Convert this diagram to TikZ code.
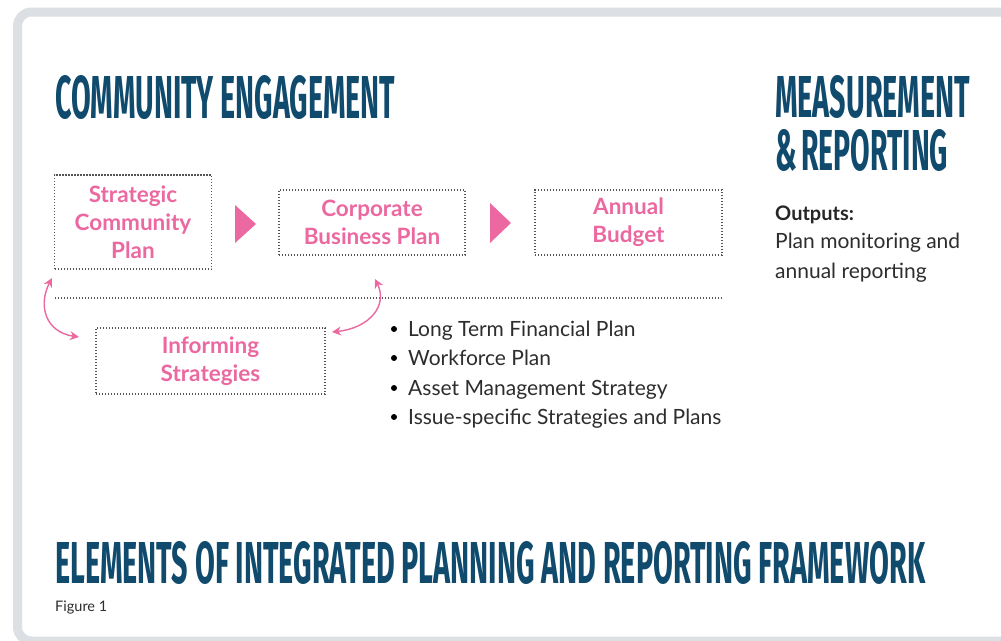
\documentclass[tikz,border=0pt]{standalone}
\usepackage{fontspec}
\usepackage{graphicx}
\setmainfont{Lato}
\newfontfamily\titlefont{Fira Sans}
\usetikzlibrary{arrows.meta}
\definecolor{navy}{RGB}{16,74,108}
\definecolor{pinkc}{RGB}{235,104,160}
\definecolor{dotc}{RGB}{85,85,85}
\definecolor{framec}{RGB}{220,223,228}
\definecolor{bodyc}{RGB}{45,45,45}
\tikzset{
  dotbox/.style={draw=dotc, line width=1.6pt, dash pattern=on 1.3pt off 1.7pt,
    inner sep=0pt, align=center, text=pinkc, font=\fontsize{22.5}{28}\selectfont\bfseries},
  dotline/.style={draw=dotc, line width=1.6pt, dash pattern=on 1.3pt off 1.7pt},
  headline/.style={anchor=north west, inner sep=0pt, text=navy},
  bodytext/.style={anchor=base west, inner sep=0pt, text=bodyc, font=\fontsize{21}{29}\selectfont},
  bulletdot/.style={circle, fill=black, inner sep=0pt, minimum size=6pt},
  linkarrow/.style={draw=pinkc, line width=1.4pt, {Stealth[length=9pt,width=9pt]}-{Stealth[length=9pt,width=9pt]}},
  tri/.style={fill=pinkc}
}
\begin{document}
\begin{tikzpicture}[x=1pt,y=-1pt]
\useasboundingbox (0,0) rectangle (1001,640);
\fill[white] (0,0) rectangle (1001,640);
% frame
\draw[framec, line width=9pt, rounded corners=14pt] (17.5,12) rectangle (1030,641);

% headings
\node[headline] (t1) at (55,75) {\resizebox{340pt}{43pt}{\titlefont\bfseries COMMUNITY ENGAGEMENT}};
\node[headline] (t2) at (775,75) {\resizebox{195pt}{42pt}{\titlefont\bfseries MEASUREMENT}};
\node[headline] (t3) at (775,129) {\resizebox{173pt}{41pt}{\titlefont\bfseries \&\,REPORTING}};
\node[headline] (t4) at (55,541) {\resizebox{870pt}{42pt}{\titlefont\bfseries ELEMENTS OF INTEGRATED PLANNING AND REPORTING FRAMEWORK}};
\node[anchor=base west, inner sep=0pt, text=bodyc, font=\fontsize{14.5}{16}\selectfont] (fig) at (55,611) {Figure 1};

% boxes
\node[dotbox, minimum width=157pt, minimum height=94pt] (scp) at (133,222) {Strategic\\Community\\Plan};
\node[dotbox, minimum width=186pt, minimum height=65pt] (cbp) at (372,222.5) {Corporate\\Business Plan};
\node[dotbox, minimum width=187pt, minimum height=65pt] (ab) at (628.5,222.5) {Annual\\Budget};
\node[dotbox, minimum width=229pt, minimum height=66pt] (is) at (210.5,361) {Informing\\Strategies};

% triangles
\fill[tri] (235,205) -- (235,243) -- (256,224) -- cycle;
\fill[tri] (490,203) -- (490,243) -- (511,223) -- cycle;

% dotted divider
\coordinate (hl1) at (55,298);
\coordinate (hl2) at (722,298);
\draw[dotline] (hl1) -- (hl2);

% curved links
\coordinate (a1) at (52,278);
\coordinate (a2) at (79,337);
\coordinate (b1) at (375,279);
\coordinate (b2) at (332,332);
\draw[linkarrow] (a1) .. controls (38,305) and (45,332) .. (a2);
\draw[linkarrow] (b1) .. controls (388,305) and (370,328) .. (b2);

% bullet list
\node[bulletdot] (d1) at (394,329) {};
\node[bulletdot] (d2) at (394,358) {};
\node[bulletdot] (d3) at (394,388) {};
\node[bulletdot] (d4) at (394,417) {};
\node[bodytext] (l1) at (408,336) {Long Term Financial Plan};
\node[bodytext] (l2) at (408,365) {Workforce Plan};
\node[bodytext] (l3) at (408,395) {Asset Management Strategy};
\node[bodytext] (l4) at (408,424) {Issue-specific Strategies and Plans};

% outputs
\node[bodytext, font=\fontsize{20}{29}\selectfont\bfseries, text=black!85] (o1) at (775,220) {Outputs:};
\node[bodytext] (o2) at (775,248) {Plan monitoring and};
\node[bodytext] (o3) at (775,278) {annual reporting};
\end{tikzpicture}
\end{document}
